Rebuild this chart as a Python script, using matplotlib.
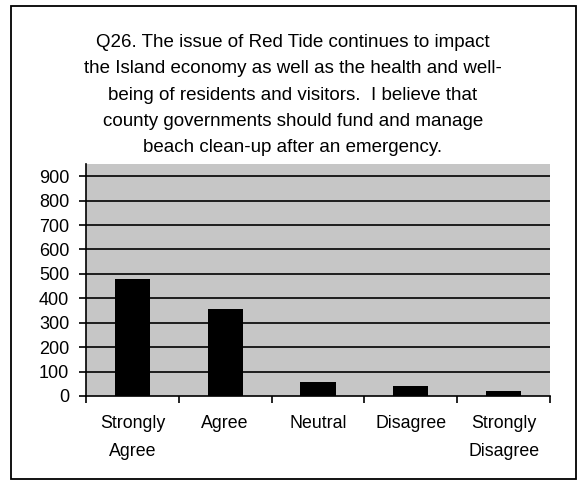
import matplotlib
matplotlib.use("Agg")
import matplotlib.pyplot as plt
from matplotlib.patches import Rectangle

categories = ["Strongly\nAgree", "Agree", "Neutral", "Disagree", "Strongly\nDisagree"]
values = [480, 355, 58, 41, 20]
yticks = [0, 100, 200, 300, 400, 500, 600, 700, 800, 900]
title = ("Q26. The issue of Red Tide continues to impact\n"
         "the Island economy as well as the health and well-\n"
         "being of residents and visitors.  I believe that\n"
         "county governments should fund and manage\n"
         "beach clean-up after an emergency.")

plt.rcParams['font.family'] = ['Liberation Sans', 'DejaVu Sans']
W, H = 581, 483
fig = plt.figure(figsize=(W/100, H/100), dpi=100)
fig.patch.set_facecolor('white')

# outer frame
fl, fr, ft, fb = 11, 576, 6, 479
fig.add_artist(Rectangle((fl/W, 1 - fb/H), (fr-fl)/W, (fb-ft)/H,
                         transform=fig.transFigure, fill=False,
                         edgecolor='black', linewidth=1.3))

left, right, top, bottom = 86, 550, 164, 396
ax = fig.add_axes([left/W, 1 - bottom/H, (right-left)/W, (bottom-top)/H])
ax.set_facecolor('#c6c6c6')
x = list(range(len(categories)))
ax.bar(x, values, width=0.38, color='black', zorder=3)
ax.set_xlim(-0.5, len(categories) - 0.5)
ax.set_ylim(0, 950)
ax.set_yticks(yticks)
ax.set_yticklabels([str(v) for v in yticks], fontsize=13)
for v in yticks[1:]:
    ax.axhline(v, color='black', linewidth=1.2, zorder=2)
ax.set_xticks([i + 0.5 for i in range(-1, len(categories))], minor=False)
ax.set_xticklabels([])
ax.tick_params(axis='x', direction='out', length=5, width=1.2, colors='black')
ax.tick_params(axis='y', direction='out', length=5, width=1.2, pad=7)
for i, c in enumerate(categories):
    ax.text(i, -0.082, c, transform=ax.get_xaxis_transform(), ha='center', va='top',
            fontsize=12.8, linespacing=1.87)
for s in ['top', 'right']:
    ax.spines[s].set_visible(False)
ax.spines['left'].set_linewidth(1.2)
ax.spines['bottom'].set_linewidth(1.2)

fig.text(293/W, 1 - 34/H, title, ha='center', va='top', fontsize=13.5,
         linespacing=1.72)

fig.savefig("out.png", dpi=100)
